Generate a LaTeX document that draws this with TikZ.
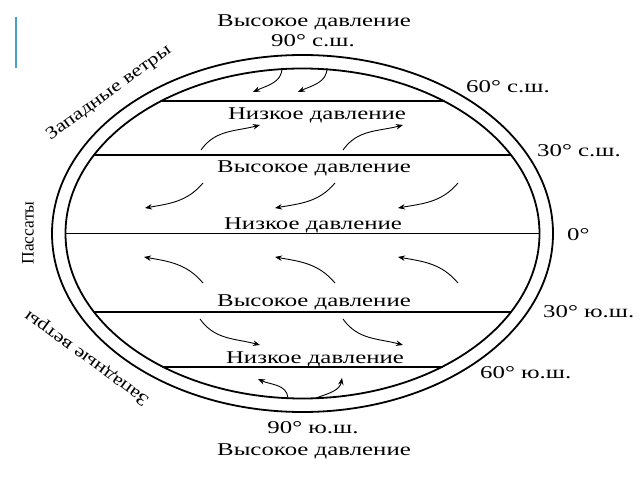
\documentclass[tikz,border=0pt]{standalone}
\usepackage{fontspec}
\setmainfont{Liberation Serif}
\newfontfamily\wfont{Liberation Serif}[FakeStretch=1.38]
\newfontfamily\dfont{Liberation Serif}[FakeStretch=1.25]
\usetikzlibrary{arrows.meta}
\begin{document}
\begin{tikzpicture}[x=1pt,y=1pt,
  lbl/.style={font={\wfont\fontsize{18}{21}\selectfont}, inner sep=0pt, anchor=base},
  lat/.style={font={\wfont\fontsize{18}{21}\selectfont}, inner sep=0pt, anchor=base west},
  side/.style={font={\dfont\fontsize{17.5}{20}\selectfont}, inner sep=0pt},
  wind/.style={-{Stealth[length=7pt,width=5.5pt]}, line width=0.9pt},
  band/.style={line width=1.7pt},
  rim/.style={line width=1.8pt}]
\useasboundingbox (0,0) rectangle (640,480);
% slide artefact
\draw[line width=2pt, color={rgb,255:red,74;green,159;blue,208}] (16,463) -- (16,412);
% globe
\draw[rim] (302.5,246.5) ellipse [x radius=250.5, y radius=178.5];
\draw[rim] (302.5,246.5) ellipse [x radius=237, y radius=165];
% latitude chords
\coordinate (n60w) at (161.5,379); \coordinate (n60e) at (443.5,379);
\coordinate (n30w) at (94,325);    \coordinate (n30e) at (511,325);
\coordinate (eqw)  at (65.5,246.5); \coordinate (eqe) at (539.5,246.5);
\coordinate (s30w) at (94,168);    \coordinate (s30e) at (511,168);
\coordinate (s60w) at (162,113);   \coordinate (s60e) at (443,113);
\draw[band] (n60w) -- (n60e);
\draw[band] (n30w) -- (n30e);
\draw[line width=1.2pt] (eqw) -- (eqe);
\draw[band] (s30w) -- (s30e);
\draw[band] (s60w) -- (s60e);
% pressure labels
\node[lbl] (hpn) at (314,453) {Высокое давление};
\node[lbl] (pn)  at (313,433) {90° с.ш.};
\node[lbl] (ln60) at (317,360) {Низкое давление};
\node[lbl] (hn30) at (314,307) {Высокое давление};
\node[lbl] (leq)  at (313,250) {Низкое давление};
\node[lbl] (hs30) at (314,174) {Высокое давление};
\node[lbl] (ls60) at (315,117) {Низкое давление};
\node[lbl] (ps)  at (313,47) {90° ю.ш.};
\node[lbl] (hps) at (314,25) {Высокое давление};
% latitude labels
\node[lat] (l60n) at (466,387) {60° с.ш.};
\node[lat] (l30n) at (537,323) {30° с.ш.};
\node[lat] (l0)   at (567,240) {0°};
\node[lat] (l30s) at (543,163) {30° ю.ш.};
\node[lat] (l60s) at (480,102) {60° ю.ш.};
% wind belt labels
\node[side, rotate=36]  (wn) at (109,387) {Западные ветры};
\node[font={\fontsize{17.5}{20}\selectfont}, inner sep=0pt, rotate=90] (tr) at (28,247) {Пассаты};
\node[side, rotate=144] (ws) at (87,122) {Западные ветры};
% wind arrows: north polar
\coordinate (a1s) at (282,412); \coordinate (a1e) at (253,388);
\coordinate (a2s) at (327,412); \coordinate (a2e) at (298,388);
\draw[wind] (a1s) to[out=-90, in=25] (a1e);
\draw[wind] (a2s) to[out=-90, in=25] (a2e);
% northern westerlies
\coordinate (b1s) at (201,330); \coordinate (b1e) at (260,355);
\coordinate (b2s) at (343,330); \coordinate (b2e) at (403,355);
\draw[wind] (b1s) to[out=55, in=195] (b1e);
\draw[wind] (b2s) to[out=55, in=195] (b2e);
% northern trades
\coordinate (c1s) at (203,297); \coordinate (c1e) at (145,272);
\coordinate (c2s) at (335,297); \coordinate (c2e) at (275,272);
\coordinate (c3s) at (458,297); \coordinate (c3e) at (398,272);
\draw[wind] (c1s) to[out=230, in=10] (c1e);
\draw[wind] (c2s) to[out=230, in=10] (c2e);
\draw[wind] (c3s) to[out=230, in=10] (c3e);
% southern trades
\coordinate (d1s) at (203,197); \coordinate (d1e) at (144,223);
\coordinate (d2s) at (335,197); \coordinate (d2e) at (275,223);
\coordinate (d3s) at (458,197); \coordinate (d3e) at (398,223);
\draw[wind] (d1s) to[out=130, in=-10] (d1e);
\draw[wind] (d2s) to[out=130, in=-10] (d2e);
\draw[wind] (d3s) to[out=130, in=-10] (d3e);
% southern westerlies
\coordinate (e1s) at (200,161); \coordinate (e1e) at (260,135);
\coordinate (e2s) at (343,161); \coordinate (e2e) at (403,135);
\draw[wind] (e1s) to[out=-55, in=165] (e1e);
\draw[wind] (e2s) to[out=-55, in=165] (e2e);
% south polar
\coordinate (f1s) at (288,82); \coordinate (f1e) at (258,101);
\coordinate (f2s) at (316,82); \coordinate (f2e) at (342,102);
\draw[wind] (f1s) to[out=95, in=-25] (f1e);
\draw[wind] (f2s) to[out=20, in=-100] (f2e);
\end{tikzpicture}
\end{document}
